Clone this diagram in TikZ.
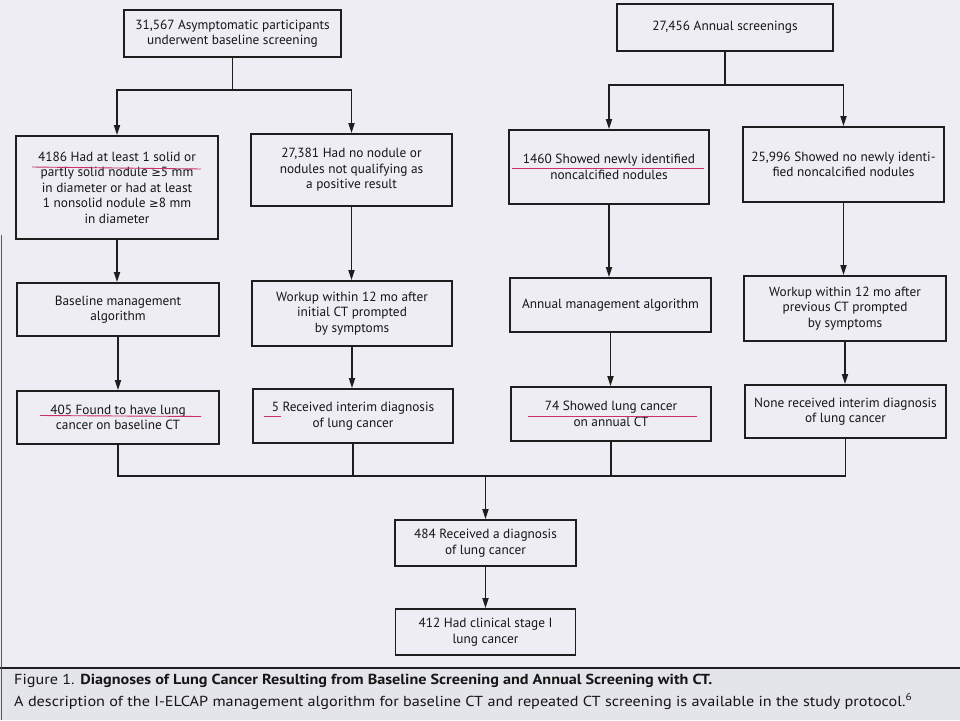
\documentclass[tikz,border=0pt]{standalone}
\usepackage{fontspec}
\setmainfont{PT Sans}
\newfontfamily\symfont{DejaVu Sans}
\usetikzlibrary{arrows.meta}
\definecolor{bgcol}{HTML}{EDEDF3}
\definecolor{capbg}{HTML}{E4E4EB}
\definecolor{boxline}{HTML}{1E1E1E}
\definecolor{txtcol}{HTML}{161616}
\definecolor{markcol}{HTML}{C8306E}
\newcommand{\geqsym}{{\symfont\fontsize{11.5}{13}\selectfont ≥}}
\newcommand{\boxfont}{\fontsize{13.3}{15.5}\selectfont}
\begin{document}
\begin{tikzpicture}[x=1pt,y=-1pt,
  box/.style={draw=boxline, line width=1.7pt, align=center, inner sep=0pt, text=txtcol, font=\boxfont},
  conn/.style={draw=boxline, line width=1.7pt},
  arr/.style={conn, -{Triangle[length=10pt,width=6pt]}},
  umark/.style={draw=markcol, line width=0.9pt}]
\fill[bgcol] (0,0) rectangle (960,720);
\fill[capbg] (0,668) rectangle (960,720);
\useasboundingbox (0,0) rectangle (960,720);
\draw[boxline, line width=1.3pt] (0,668) -- (960,668);
\draw[gray!70!black, line width=1pt] (1.5,235) -- (1.5,720);

% top row
\node[box, minimum width=217pt, minimum height=47pt] (top1) at (232.5,33.5) {31,567 Asymptomatic participants\\underwent baseline screening};
\node[box, minimum width=216pt, minimum height=47pt] (top2) at (725,27.5) {27,456 Annual screenings};

% second row
\node[box, minimum width=202pt, minimum height=103pt] (A) at (117,187.5) {4186 Had at least 1 solid or\\partly solid nodule \geqsym5 mm\\in diameter or had at least\\1 nonsolid nodule \geqsym8 mm\\in diameter};
\node[box, minimum width=201pt, minimum height=72pt] (B) at (351.5,170) {27,381 Had no nodule or\\nodules not qualifying as\\a positive result};
\node[box, minimum width=200pt, minimum height=74pt] (C) at (609,167) {1460 Showed newly identified\\noncalcified nodules};
\node[box, minimum width=201pt, minimum height=75pt] (D) at (843.5,164.5) {25,996 Showed no newly identi-\\fied noncalcified nodules};

% third row
\node[box, minimum width=202pt, minimum height=53pt] (E) at (118,309.5) {Baseline management\\algorithm};
\node[box, minimum width=200pt, minimum height=65pt] (F) at (352,313.5) {Workup within 12 mo after\\initial CT prompted\\by symptoms};
\node[box, minimum width=201pt, minimum height=54pt] (I) at (610.5,305) {Annual management algorithm};
\node[box, minimum width=202pt, minimum height=65pt] (J) at (845,308.5) {Workup within 12 mo after\\previous CT prompted\\by symptoms};

% fourth row
\node[box, minimum width=202pt, minimum height=53pt] (G) at (118,417.5) {405 Found to have lung\\cancer on baseline CT};
\node[box, minimum width=200pt, minimum height=54pt] (H) at (353,416) {5 Received interim diagnosis\\of lung cancer};
\node[box, minimum width=200pt, minimum height=54pt] (K) at (611,414) {74 Showed lung cancer\\on annual CT};
\node[box, minimum width=201pt, minimum height=53pt] (L) at (845.5,411.5) {None received interim diagnosis\\of lung cancer};

% bottom
\node[box, minimum width=181pt, minimum height=46pt] (M) at (485.5,543) {484 Received a diagnosis\\of lung cancer};
\node[box, minimum width=180pt, minimum height=46pt] (N) at (485.5,632) {412 Had clinical stage I\\lung cancer};

% forks
\coordinate (fork1) at (232.5,90);
\coordinate (fork2) at (725,85);
\draw[conn] (top1.south) -- (fork1);
\draw[arr] (fork1) -| (A.north);
\draw[arr] (fork1) -| (B.north);
\draw[conn] (top2.south) -- (fork2);
\draw[arr] (fork2) -| (C.north);
\draw[arr] (fork2) -| (D.north);

% vertical chains
\draw[arr] (A.south) -- (A.south |- E.north);
\draw[arr] (B.south) -- (B.south |- F.north);
\draw[arr] (C.south) -- (C.south |- I.north);
\draw[arr] (D.south) -- (D.south |- J.north);
\draw[arr] (E.south) -- (E.south |- G.north);
\draw[arr] (F.south) -- (F.south |- H.north);
\draw[arr] (I.south) -- (I.south |- K.north);
\draw[arr] (J.south) -- (J.south |- L.north);

% merge
\coordinate (merge) at (485.5,476);
\draw[conn] (G.south) |- (merge);
\draw[conn] (H.south) |- (merge);
\draw[conn] (K.south) |- (merge);
\draw[conn] (L.south) |- (merge);
\draw[arr] (merge) -- (M.north);
\draw[arr] (M.south) -- (N.north);

% hand-drawn underlines
\draw[umark] (32,167) -- (201,169);
\draw[umark] (512,168) -- (704,168);
\draw[umark] (40,415.5) -- (201,416.5);
\draw[umark] (264,416) -- (281,416);
\draw[umark] (528,416) -- (697,416);

% caption
\node[anchor=base west, inner sep=0pt, text=txtcol] (cap1) at (14,684) {\resizebox{698pt}{\height}{\fontsize{14.5}{16}\selectfont Figure 1. \textbf{Diagnoses of Lung Cancer Resulting from Baseline Screening and Annual Screening with CT.}}};
\node[anchor=base west, inner sep=0pt, text=txtcol] (cap2) at (14,706) {\resizebox{898pt}{\height}{\fontsize{14.5}{16}\selectfont A description of the I-ELCAP management algorithm for baseline CT and repeated CT screening is available in the study protocol.\textsuperscript{6}}};
\end{tikzpicture}
\end{document}
